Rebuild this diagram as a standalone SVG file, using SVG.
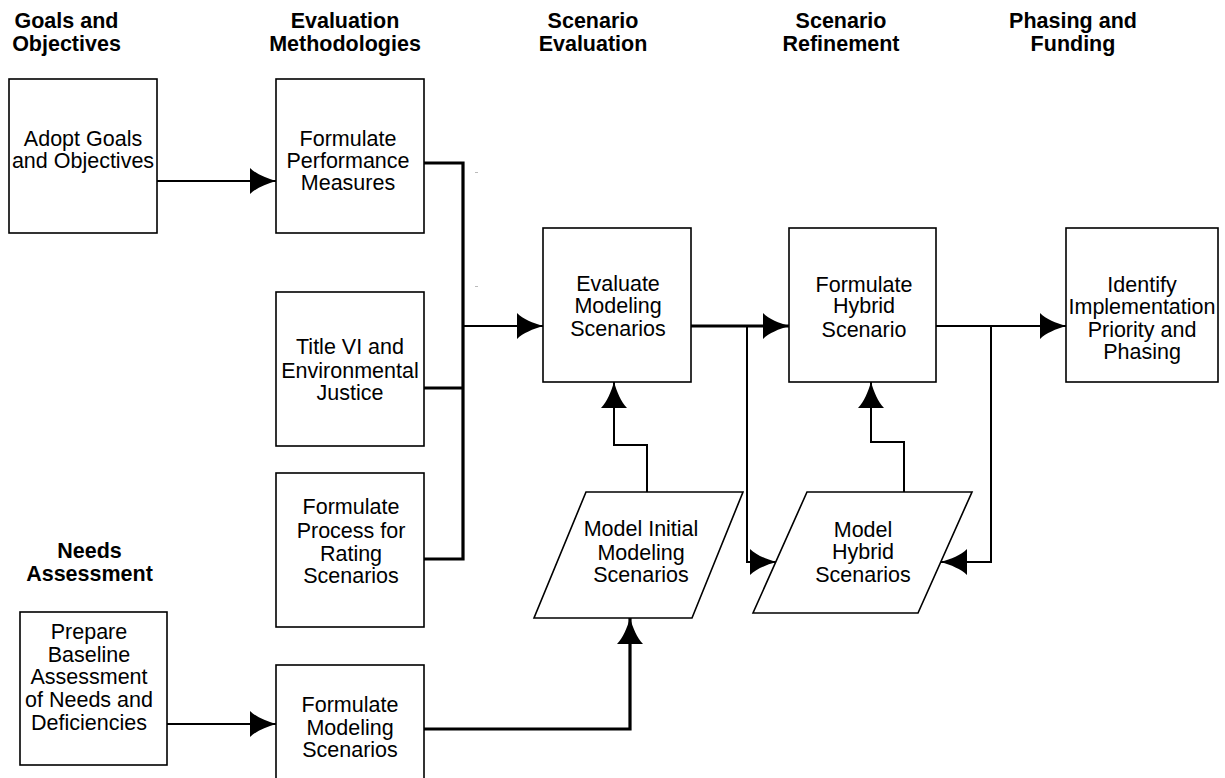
<svg xmlns="http://www.w3.org/2000/svg" width="1225" height="778" viewBox="0 0 1225 778">
<style>
  .box { fill: #ffffff; stroke: #000000; stroke-width: 1.6; }
  .t { font-family: "Liberation Sans", Arial, sans-serif; font-size: 21.5px; fill: #000000; text-anchor: middle; }
  .h { font-family: "Liberation Sans", Arial, sans-serif; font-size: 21.5px; font-weight: bold; fill: #000000; text-anchor: middle; }
  .thin { fill: none; stroke: #000000; stroke-width: 2; }
  .thick { fill: none; stroke: #000000; stroke-width: 3.2; }
  .tick { stroke: #bbbbbb; stroke-width: 1; }
</style>
<defs>
  <marker id="arr" markerUnits="userSpaceOnUse" viewBox="-28 -15 30 30" refX="0" refY="0" markerWidth="30" markerHeight="30" orient="auto">
    <path d="M0,0 C-10,-3 -20,-7 -26,-13 L-26,13 C-20,7 -10,3 0,0 Z" fill="#000000"/>
  </marker>
</defs>
<rect width="1225" height="778" fill="#ffffff"/>

<g id="headers">
  <text class="h" x="66.5" y="27.5">Goals and</text>
  <text class="h" x="66.5" y="50.7">Objectives</text>
  <text class="h" x="345" y="27.5">Evaluation</text>
  <text class="h" x="345" y="50.7">Methodologies</text>
  <text class="h" x="593" y="27.5">Scenario</text>
  <text class="h" x="593" y="50.7">Evaluation</text>
  <text class="h" x="841" y="27.5">Scenario</text>
  <text class="h" x="841" y="50.7">Refinement</text>
  <text class="h" x="1073" y="27.5">Phasing and</text>
  <text class="h" x="1073" y="50.7">Funding</text>
  <text class="h" x="89.5" y="557.7">Needs</text>
  <text class="h" x="89.5" y="581">Assessment</text>
</g>

<g id="connectors">
  <path class="thin" d="M157,181 H276" marker-end="url(#arr)"/>
  <path class="thick" d="M424,163 H463 V559 H424"/>
  <path class="thick" d="M424,388 H463"/>
  <path class="thin" d="M463,326 H543" marker-end="url(#arr)"/>
  <path class="thick" d="M691,326 H789" marker-end="url(#arr)"/>
  <path class="thin" d="M747,326 V562 H776" marker-end="url(#arr)"/>
  <path class="thin" d="M936,326 H1066" marker-end="url(#arr)"/>
  <path class="thin" d="M991,326 V562 H941" marker-end="url(#arr)"/>
  <path class="thin" d="M647,492 V445 H614 V382" marker-end="url(#arr)"/>
  <path class="thin" d="M904,492 V442 H871 V382" marker-end="url(#arr)"/>
  <path class="thin" d="M167,724 H276" marker-end="url(#arr)"/>
  <path class="thick" d="M424,729 H630 V618" marker-end="url(#arr)"/>
  <line class="tick" x1="475" y1="172.5" x2="478" y2="172.5"/>
  <line class="tick" x1="475" y1="286.5" x2="478" y2="286.5"/>
</g>

<g id="adopt">
  <rect class="box" x="9" y="79" width="148" height="154"/>
  <text class="t" x="83" y="145.7">Adopt Goals</text>
  <text class="t" x="83" y="167.7">and Objectives</text>
</g>

<g id="performance">
  <rect class="box" x="276" y="79" width="148" height="154"/>
  <text class="t" x="348" y="145.7">Formulate</text>
  <text class="t" x="348" y="167.7">Performance</text>
  <text class="t" x="348" y="190">Measures</text>
</g>

<g id="titlevi">
  <rect class="box" x="276" y="292" width="148" height="154"/>
  <text class="t" x="350" y="354.3">Title VI and</text>
  <text class="t" x="350" y="377.7">Environmental</text>
  <text class="t" x="350" y="400">Justice</text>
</g>

<g id="process">
  <rect class="box" x="276" y="473" width="148" height="154"/>
  <text class="t" x="351" y="514.3">Formulate</text>
  <text class="t" x="351" y="537.7">Process for</text>
  <text class="t" x="351" y="560.7">Rating</text>
  <text class="t" x="351" y="583.3">Scenarios</text>
</g>

<g id="evaluate">
  <rect class="box" x="543" y="228" width="148" height="154"/>
  <text class="t" x="618" y="290.7">Evaluate</text>
  <text class="t" x="618" y="313">Modeling</text>
  <text class="t" x="618" y="336">Scenarios</text>
</g>

<g id="hybrid">
  <rect class="box" x="789" y="228" width="147" height="154"/>
  <text class="t" x="864" y="291.7">Formulate</text>
  <text class="t" x="864" y="313.3">Hybrid</text>
  <text class="t" x="864" y="336.7">Scenario</text>
</g>

<g id="identify">
  <rect class="box" x="1066" y="228" width="152" height="154"/>
  <text class="t" x="1142" y="291.7">Identify</text>
  <text class="t" x="1142" y="314.3">Implementation</text>
  <text class="t" x="1142" y="336.7">Priority and</text>
  <text class="t" x="1142" y="359.3">Phasing</text>
</g>

<g id="model-initial">
  <polygon class="box" points="586,492 743,492 692,618 534,618"/>
  <text class="t" x="641" y="536">Model Initial</text>
  <text class="t" x="641" y="559.5">Modeling</text>
  <text class="t" x="641" y="581.7">Scenarios</text>
</g>

<g id="model-hybrid">
  <polygon class="box" points="807,492 972,492 918,613 753,613"/>
  <text class="t" x="863" y="536.7">Model</text>
  <text class="t" x="863" y="559">Hybrid</text>
  <text class="t" x="863" y="581.7">Scenarios</text>
</g>

<g id="prepare">
  <rect class="box" x="20" y="612" width="147" height="153"/>
  <text class="t" x="89" y="639.3">Prepare</text>
  <text class="t" x="89" y="661.7">Baseline</text>
  <text class="t" x="89" y="684.3">Assessment</text>
  <text class="t" x="89" y="707.3">of Needs and</text>
  <text class="t" x="89" y="730">Deficiencies</text>
</g>

<g id="modeling">
  <rect class="box" x="276" y="665" width="148" height="130"/>
  <text class="t" x="350" y="711.7">Formulate</text>
  <text class="t" x="350" y="735">Modeling</text>
  <text class="t" x="350" y="756.7">Scenarios</text>
</g>
</svg>
